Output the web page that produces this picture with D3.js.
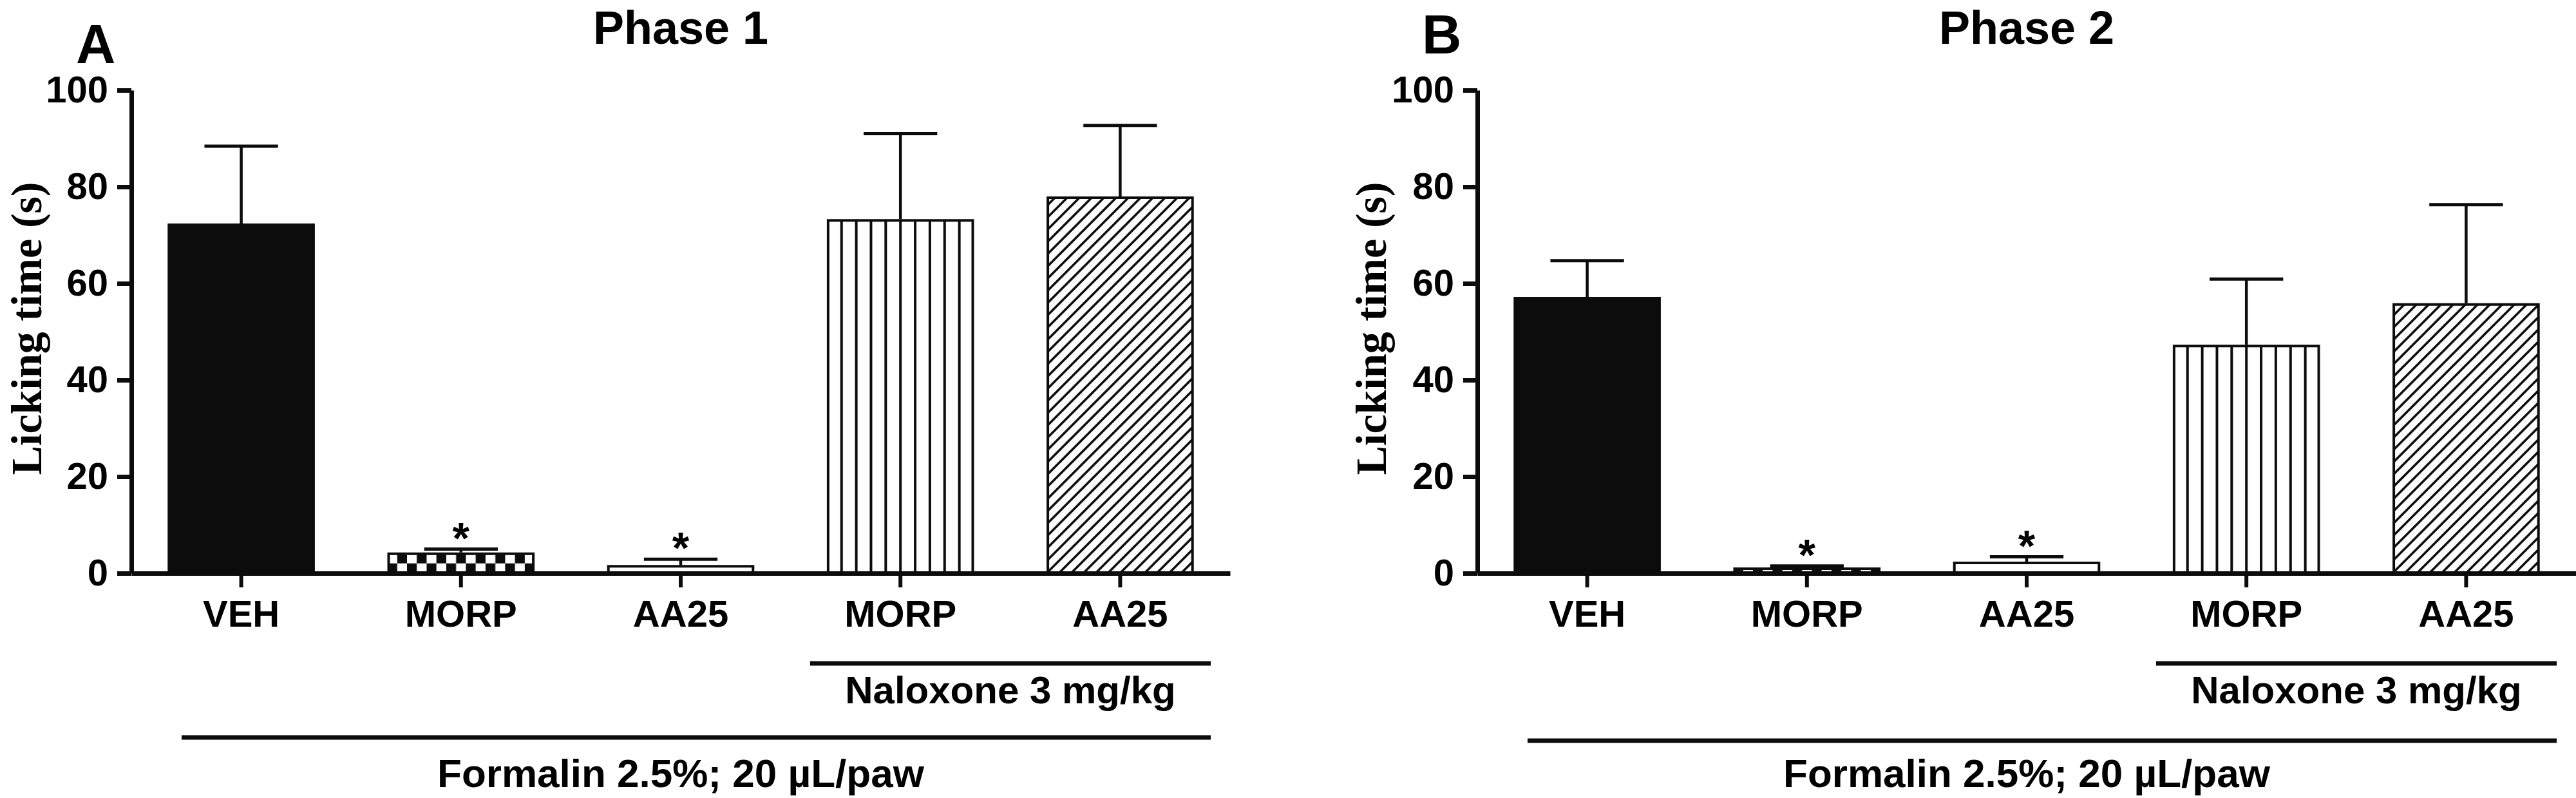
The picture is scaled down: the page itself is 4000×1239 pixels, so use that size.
<!DOCTYPE html>
<html>
<head>
<meta charset="utf-8">
<script src="https://cdn.jsdelivr.net/npm/d3@7"></script>
<style>
  html, body { margin: 0; padding: 0; background: #fff; }
  svg { display: block; }
  text { font-weight: bold; fill: #000; }
</style>
</head>
<body>
<svg id="chart" width="4000" height="1239"></svg>
<script>
// ---------------- data ----------------
const categories = ["VEH", "MORP", "AA25", "MORP", "AA25"];
const fillTypes = ["solid", "checker", "open", "vertical", "diagonal"];
const phase1Means = [72.4, 4.3, 1.7, 73.3, 78.0];
const phase1Sem   = [16.0, 0.7, 1.2, 17.7, 14.7];
const phase1Signif = [false, true, true, false, false];
const phase2Means = [57.2, 1.2, 2.4, 47.3, 55.9];
const phase2Sem   = [7.5, 0.3, 1.0, 13.6, 20.4];
const phase2Signif = [false, true, true, false, false];
const yTicks = [0, 20, 40, 60, 80, 100];
const panelLetters = ["A", "B"];
const panelTitles = ["Phase 1", "Phase 2"];
const yAxisTitle = "Licking time (s)";
const naloxoneLabel = "Naloxone 3 mg/kg";
const formalinLabel = "Formalin 2.5%; 20 \u00B5L/paw";

// ---------------- layout ----------------
const SANS = "'Liberation Sans', Arial, sans-serif";
const SERIF = "'Liberation Serif', 'Times New Roman', serif";
const svg = d3.select("#chart");
const defs = svg.append("defs");
const INK = "#0b0c0b";

const panels = [
  { letter: panelLetters[0], title: panelTitles[0], means: phase1Means, sem: phase1Sem, sig: phase1Signif,
    x0: 204, letterX: 118, letterY: 98, ylabX: 64, formY: 1145 },
  { letter: panelLetters[1], title: panelTitles[1], means: phase2Means, sem: phase2Sem, sig: phase2Signif,
    x0: 2294, letterX: 2208, letterY: 83, ylabX: 2152, formY: 1150 }
];

const axisLen = 1706;
const yTop = 140, yBottom = 890;

panels.forEach((p, pi) => {
  const g = svg.append("g").style("font-family", SANS);
  const x = d3.scaleBand()
    .domain(d3.range(categories.length))
    .range([p.x0, p.x0 + axisLen])
    .paddingInner(0.33)
    .paddingOuter(0.165);
  const y = d3.scaleLinear().domain([0, 100]).range([yBottom, yTop]);
  const bw = x.bandwidth();

  // patterns
  categories.forEach((c, i) => {
    const bx = x(i);
    const id = `pat-${pi}-${i}`;
    if (fillTypes[i] === "checker") {
      const cell = bw / 15;
      const pat = defs.append("pattern").attr("id", id)
        .attr("patternUnits", "userSpaceOnUse")
        .attr("x", bx).attr("y", y(0) - 2 * cell)
        .attr("width", 2 * cell).attr("height", 2 * cell);
      pat.append("rect").attr("width", 2 * cell).attr("height", 2 * cell).attr("fill", "#fff");
      pat.append("rect").attr("x", cell).attr("y", 0).attr("width", cell).attr("height", cell).attr("fill", INK);
      pat.append("rect").attr("x", 0).attr("y", cell).attr("width", cell).attr("height", cell).attr("fill", INK);
    } else if (fillTypes[i] === "vertical") {
      const sp = bw / 10;
      const pat = defs.append("pattern").attr("id", id)
        .attr("patternUnits", "userSpaceOnUse")
        .attr("x", bx - 2).attr("y", 0)
        .attr("width", sp).attr("height", 50);
      pat.append("rect").attr("width", sp).attr("height", 50).attr("fill", "#fff");
      pat.append("rect").attr("x", 0).attr("y", 0).attr("width", 4).attr("height", 50).attr("fill", INK);
    } else if (fillTypes[i] === "diagonal") {
      const s = 19;
      const pat = defs.append("pattern").attr("id", id)
        .attr("patternUnits", "userSpaceOnUse")
        .attr("x", bx).attr("y", y(0))
        .attr("width", s).attr("height", s);
      pat.append("rect").attr("width", s).attr("height", s).attr("fill", "#fff");
      pat.append("path")
        .attr("d", `M-4,${s + 4}L${s + 4},-4M-4,4L4,-4M${s - 4},${s + 4}L${s + 4},${s - 4}`)
        .attr("stroke", INK).attr("stroke-width", 3.6);
    }
  });

  // bars
  g.selectAll("rect.bar").data(p.means).join("rect")
    .attr("class", "bar")
    .attr("x", (d, i) => x(i) + 2)
    .attr("width", bw - 4)
    .attr("y", d => y(d) + 2)
    .attr("height", d => Math.max(0, y(0) - y(d) - 2))
    .attr("fill", (d, i) => {
      const t = fillTypes[i];
      if (t === "solid") return INK;
      if (t === "open") return "#fff";
      return `url(#pat-${pi}-${i})`;
    })
    .attr("stroke", INK)
    .attr("stroke-width", 4);

  // error bars
  const eb = g.selectAll("g.err").data(p.means).join("g").attr("class", "err");
  eb.append("line")
    .attr("x1", (d, i) => x(i) + bw / 2).attr("x2", (d, i) => x(i) + bw / 2)
    .attr("y1", d => y(d)).attr("y2", (d, i) => y(d + p.sem[i]))
    .attr("stroke", INK).attr("stroke-width", 4.5);
  eb.append("line")
    .attr("x1", (d, i) => x(i) + bw / 4).attr("x2", (d, i) => x(i) + 3 * bw / 4)
    .attr("y1", (d, i) => y(d + p.sem[i])).attr("y2", (d, i) => y(d + p.sem[i]))
    .attr("stroke", INK).attr("stroke-width", 5);

  // significance stars
  g.selectAll("text.star").data(p.means.map((d, i) => ({ d, i })).filter(o => p.sig[o.i])).join("text")
    .attr("class", "star")
    .attr("x", o => x(o.i) + bw / 2)
    .attr("y", o => y(o.d + p.sem[o.i]) + 6)
    .attr("text-anchor", "middle")
    .attr("font-size", 68)
    .text("*");

  // y axis
  const yAxis = d3.axisLeft(y).tickValues(yTicks).tickSize(22).tickSizeOuter(0).tickPadding(14);
  const ya = g.append("g").attr("transform", `translate(${p.x0},0)`).call(yAxis);
  ya.select(".domain").attr("stroke", INK).attr("stroke-width", 7);
  ya.selectAll(".tick line").attr("stroke", INK).attr("stroke-width", 7);
  ya.selectAll(".tick text").attr("font-size", 58).style("font-family", SANS)
    .attr("font-weight", "bold").attr("fill", "#000");

  // x axis
  const xAxis = d3.axisBottom(x).tickSize(22).tickSizeOuter(0).tickPadding(20).tickFormat(i => categories[i]);
  const xa = g.append("g").attr("transform", `translate(0,${yBottom})`).call(xAxis);
  xa.select(".domain").attr("stroke", INK).attr("stroke-width", 7);
  xa.selectAll(".tick line").attr("stroke", INK).attr("stroke-width", 6);
  xa.selectAll(".tick text").attr("font-size", 58).style("font-family", SANS)
    .attr("font-weight", "bold").attr("fill", "#000");

  // y axis title
  g.append("text")
    .attr("transform", `translate(${p.ylabX},${(yTop + yBottom) / 2 - 5}) rotate(-90)`)
    .attr("text-anchor", "middle")
    .style("font-family", SERIF)
    .attr("font-size", 68)
    .attr("textLength", 455)
    .attr("lengthAdjust", "spacing")
    .text(yAxisTitle);

  // panel letter & title
  g.append("text").attr("x", p.letterX).attr("y", p.letterY).attr("font-size", 85).text(p.letter);
  g.append("text").attr("x", p.x0 + axisLen / 2).attr("y", 68).attr("text-anchor", "middle")
    .attr("font-size", 72).text(p.title);

  // group brackets
  const end = p.x0 + axisLen;
  const nalStart = x(3) - 26, nalEnd = end - 30;
  g.append("line").attr("x1", nalStart).attr("x2", nalEnd).attr("y1", 1030).attr("y2", 1030)
    .attr("stroke", INK).attr("stroke-width", 7);
  g.append("text").attr("x", (nalStart + nalEnd) / 2).attr("y", 1092).attr("text-anchor", "middle")
    .attr("font-size", 60).text(naloxoneLabel);
  const fStart = p.x0 + 78;
  g.append("line").attr("x1", fStart).attr("x2", nalEnd).attr("y1", p.formY).attr("y2", p.formY)
    .attr("stroke", INK).attr("stroke-width", 7);
  g.append("text").attr("x", p.x0 + axisLen / 2).attr("y", 1222).attr("text-anchor", "middle")
    .attr("font-size", 62).text(formalinLabel);
});
</script>
</body>
</html>
